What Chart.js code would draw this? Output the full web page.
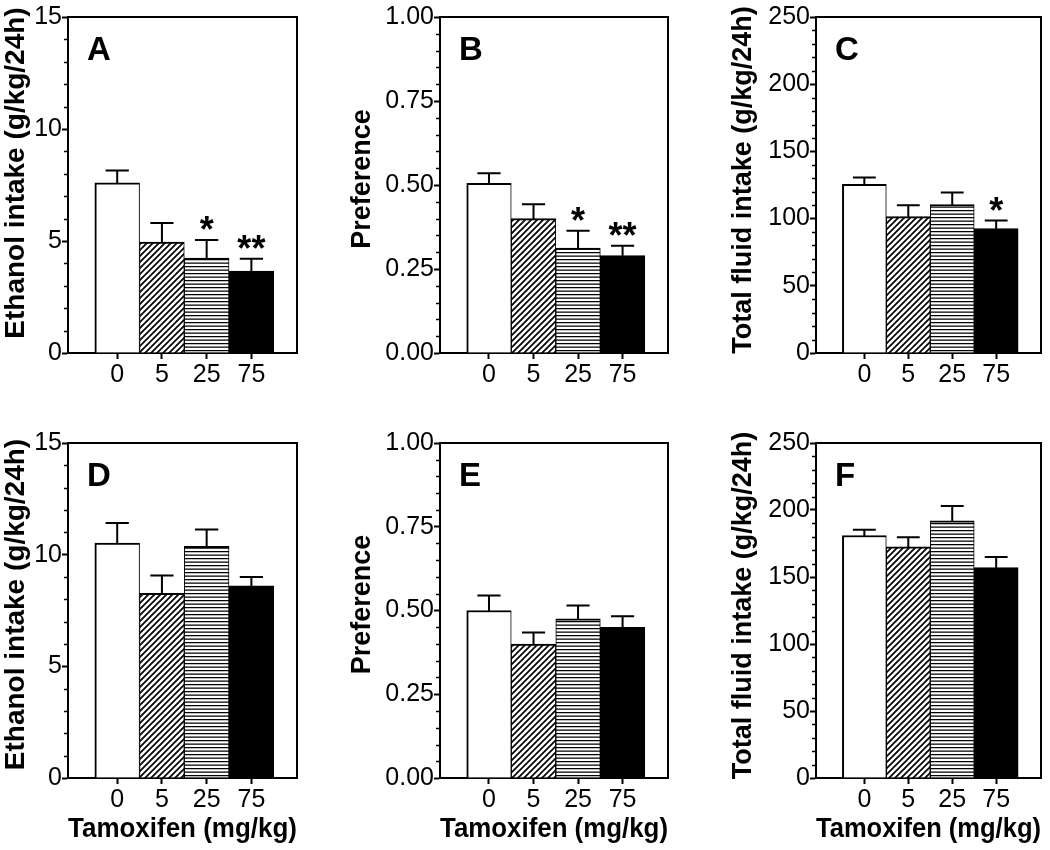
<!DOCTYPE html>
<html>
<head>
<meta charset="utf-8">
<script src="https://cdn.jsdelivr.net/npm/chart.js@4.4.1/dist/chart.umd.min.js"></script>
<style>
  body { margin: 0; background: #fff; width: 1050px; height: 850px; position: relative; overflow: hidden; }
  canvas { position: absolute; }
</style>
</head>
<body>
<canvas id="chartA"></canvas>
<canvas id="chartB"></canvas>
<canvas id="chartC"></canvas>
<canvas id="chartD"></canvas>
<canvas id="chartE"></canvas>
<canvas id="chartF"></canvas>
<script>
/// === DATA === ///
const doses = ['0', '5', '25', '75'];

const ethanolA = [7.6, 4.95, 4.24, 3.66];
const ethanolAErr = [0.55, 0.85, 0.8, 0.55];
const ethanolASig = ['', '', '*', '**'];

const preferenceB = [0.505, 0.40, 0.312, 0.29];
const preferenceBErr = [0.03, 0.043, 0.052, 0.029];
const preferenceBSig = ['', '', '*', '**'];

const fluidC = [125.5, 101.5, 110.5, 92.5];
const fluidCErr = [5, 8.5, 9, 6];
const fluidCSig = ['', '', '', '*'];

const ethanolD = [10.52, 8.27, 10.37, 8.6];
const ethanolDErr = [0.9, 0.8, 0.76, 0.4];
const ethanolDSig = ['', '', '', ''];

const preferenceE = [0.50, 0.40, 0.475, 0.45];
const preferenceEErr = [0.045, 0.034, 0.04, 0.033];
const preferenceESig = ['', '', '', ''];

const fluidF = [181, 172.5, 192, 157];
const fluidFErr = [4.2, 7.2, 11, 8];
const fluidFSig = ['', '', '', ''];

/// === LOOK === ///
const FONT = "'Liberation Sans', Arial, Helvetica, sans-serif";
Chart.defaults.color = '#000';
Chart.defaults.font.family = FONT;

const makePattern = (size, draw) => {
  const c = document.createElement('canvas');
  c.width = size;
  c.height = size;
  const g = c.getContext('2d');
  g.fillStyle = '#fff';
  g.fillRect(0, 0, size, size);
  g.strokeStyle = '#000';
  draw(g, size);
  return g.createPattern(c, 'repeat');
};

const diagonal = makePattern(6, (g, s) => {
  g.lineWidth = 1.7;
  g.beginPath();
  g.moveTo(0, s); g.lineTo(s, 0);
  g.moveTo(-1, 1); g.lineTo(1, -1);
  g.moveTo(s - 1, s + 1); g.lineTo(s + 1, s - 1);
  g.stroke();
});

const striped = makePattern(7, (g, s) => {
  g.lineWidth = 1.3;
  g.beginPath();
  g.moveTo(0, 0.6); g.lineTo(s, 0.6);
  g.moveTo(0, 4.1); g.lineTo(s, 4.1);
  g.stroke();
});

const fills = ['#fff', diagonal, striped, '#000'];

// box = canvas [left, top, width, height], area = plot [left, top, right, bottom] in page px
const panels = [
  { id: 'chartA', letter: 'A', values: ethanolA, errors: ethanolAErr, stars: ethanolASig,
    yMax: 15, yStep: 5, yMinor: 1, digits: 0, yTitle: 'Ethanol intake (g/kg/24h)', xTitle: false,
    box: [0, 0, 330, 425], area: [68, 17, 297, 353], titleX: 16, titleSize: 28, titleShift: -12 },
  { id: 'chartB', letter: 'B', values: preferenceB, errors: preferenceBErr, stars: preferenceBSig,
    yMax: 1, yStep: 0.25, yMinor: 0.05, digits: 2, yTitle: 'Preference', xTitle: false,
    box: [343, 0, 340, 425], area: [440, 17, 668, 353], titleX: 20, titleSize: 27, titleShift: -6 },
  { id: 'chartC', letter: 'C', values: fluidC, errors: fluidCErr, stars: fluidCSig,
    yMax: 250, yStep: 50, yMinor: 10, digits: 0, yTitle: 'Total fluid intake (g/kg/24h)', xTitle: false,
    box: [726, 0, 324, 425], area: [816, 17, 1041, 353], titleX: 18, titleSize: 27, titleShift: -5 },
  { id: 'chartD', letter: 'D', values: ethanolD, errors: ethanolDErr, stars: ethanolDSig,
    yMax: 15, yStep: 5, yMinor: 1, digits: 0, yTitle: 'Ethanol intake (g/kg/24h)', xTitle: true,
    box: [0, 425, 330, 425], area: [68, 443, 297, 778], titleX: 16, titleSize: 28, titleShift: -6 },
  { id: 'chartE', letter: 'E', values: preferenceE, errors: preferenceEErr, stars: preferenceESig,
    yMax: 1, yStep: 0.25, yMinor: 0.05, digits: 2, yTitle: 'Preference', xTitle: true,
    box: [343, 425, 340, 425], area: [440, 443, 668, 778], titleX: 20, titleSize: 27, titleShift: -6 },
  { id: 'chartF', letter: 'F', values: fluidF, errors: fluidFErr, stars: fluidFSig,
    yMax: 250, yStep: 50, yMinor: 10, digits: 0, yTitle: 'Total fluid intake (g/kg/24h)', xTitle: true,
    box: [726, 425, 324, 425], area: [816, 443, 1041, 778], titleX: 18, titleSize: 27, titleShift: -5 },
];

// error bars, stars, frame, minor ticks, panel letter, y title
const decor = (p) => ({
  id: 'decor' + p.letter,
  afterDatasetsDraw(chart) {
    const { ctx, chartArea: a, scales: { y } } = chart;
    const meta = chart.getDatasetMeta(0);
    ctx.save();
    ctx.strokeStyle = '#000';
    ctx.fillStyle = '#000';
    ctx.lineWidth = 2;

    meta.data.forEach((bar, i) => {
      const top = y.getPixelForValue(p.values[i] + p.errors[i]);
      const half = bar.width * 0.26;
      ctx.beginPath();
      ctx.moveTo(bar.x, bar.y + 1);
      ctx.lineTo(bar.x, top);
      ctx.moveTo(bar.x - half, top);
      ctx.lineTo(bar.x + half, top);
      ctx.stroke();
      if (p.stars[i]) {
        ctx.font = 'bold 36px ' + FONT;
        ctx.textAlign = 'center';
        ctx.textBaseline = 'alphabetic';
        ctx.fillText(p.stars[i], bar.x, top + 2);
      }
    });

    ctx.beginPath();
    ctx.moveTo(a.left - 1, a.top);
    ctx.lineTo(a.right, a.top);
    ctx.lineTo(a.right, a.bottom + 1);
    ctx.stroke();

    const n = Math.round(p.yMax / p.yMinor);
    const every = Math.round(p.yStep / p.yMinor);
    ctx.lineWidth = 1.5;
    ctx.beginPath();
    for (let k = 1; k < n; k++) {
      if (k % every === 0) continue;
      const py = Math.round(y.getPixelForValue(k * p.yMinor)) + 0.5;
      ctx.moveTo(a.left - 4, py);
      ctx.lineTo(a.left, py);
    }
    ctx.stroke();

    ctx.font = 'bold 33px ' + FONT;
    ctx.textAlign = 'left';
    ctx.textBaseline = 'alphabetic';
    ctx.fillText(p.letter, a.left + 19, a.top + 43);

    ctx.translate(p.titleX, (a.top + a.bottom) / 2 + p.titleShift);
    ctx.rotate(-Math.PI / 2);
    ctx.font = 'bold ' + p.titleSize + 'px ' + FONT;
    ctx.textAlign = 'center';
    ctx.textBaseline = 'middle';
    ctx.fillText(p.yTitle, 0, 0);
    ctx.restore();
  },
});

const barBorder = (c) => ({
  top: 2,
  bottom: 0,
  left: c.dataIndex === 0 ? 2 : 1,
  right: c.dataIndex === doses.length - 1 ? 2 : 1,
});

/// === CHARTS === ///
panels.forEach((p) => {
  const el = document.getElementById(p.id);
  const [cx, cy, w, h] = p.box;
  const [L, T, R, B] = p.area;
  el.width = w;
  el.height = h;
  el.style.left = cx + 'px';
  el.style.top = cy + 'px';

  new Chart(el, {
    type: 'bar',
    data: {
      datasets: [
        {
          data: p.values.map((v, i) => ({ x: i, y: v })),
          backgroundColor: fills,
          borderColor: '#000',
          borderWidth: barBorder,
          borderSkipped: false,
          barPercentage: 1,
          categoryPercentage: 1,
        },
      ],
    },
    options: {
      responsive: false,
      animation: false,
      events: [],
      layout: { padding: { top: T - cy, right: cx + w - R, left: 0, bottom: 0 } },
      plugins: { legend: { display: false }, tooltip: { enabled: false } },
      scales: {
        x: {
          type: 'linear',
          min: -1.1,
          max: 4.02,
          offset: false,
          afterBuildTicks: (s) => { s.ticks = doses.map((d, i) => ({ value: i })); },
          afterFit: (s) => { s.height = cy + h - B; },
          ticks: {
            autoSkip: false,
            maxRotation: 0,
            padding: 1,
            font: { size: 25 },
            callback: (v) => doses[v],
          },
          grid: { offset: false, drawOnChartArea: false, tickLength: 6, tickWidth: 2, tickColor: '#000' },
          border: { color: '#000', width: 2 },
          title: {
            display: p.xTitle,
            text: 'Tamoxifen (mg/kg)',
            font: { size: 27, weight: 'bold' },
            padding: { top: 0, bottom: 4 },
          },
        },
        y: {
          min: 0,
          max: p.yMax,
          afterFit: (s) => { s.width = L - cx; },
          ticks: {
            stepSize: p.yStep,
            padding: 0,
            font: { size: 25 },
            callback: (v) => v.toFixed(p.digits),
          },
          grid: { drawOnChartArea: false, tickLength: 6, tickWidth: 2, tickColor: '#000' },
          border: { color: '#000', width: 2 },
        },
      },
    },
    plugins: [decor(p)],
  });
});
</script>
</body>
</html>
